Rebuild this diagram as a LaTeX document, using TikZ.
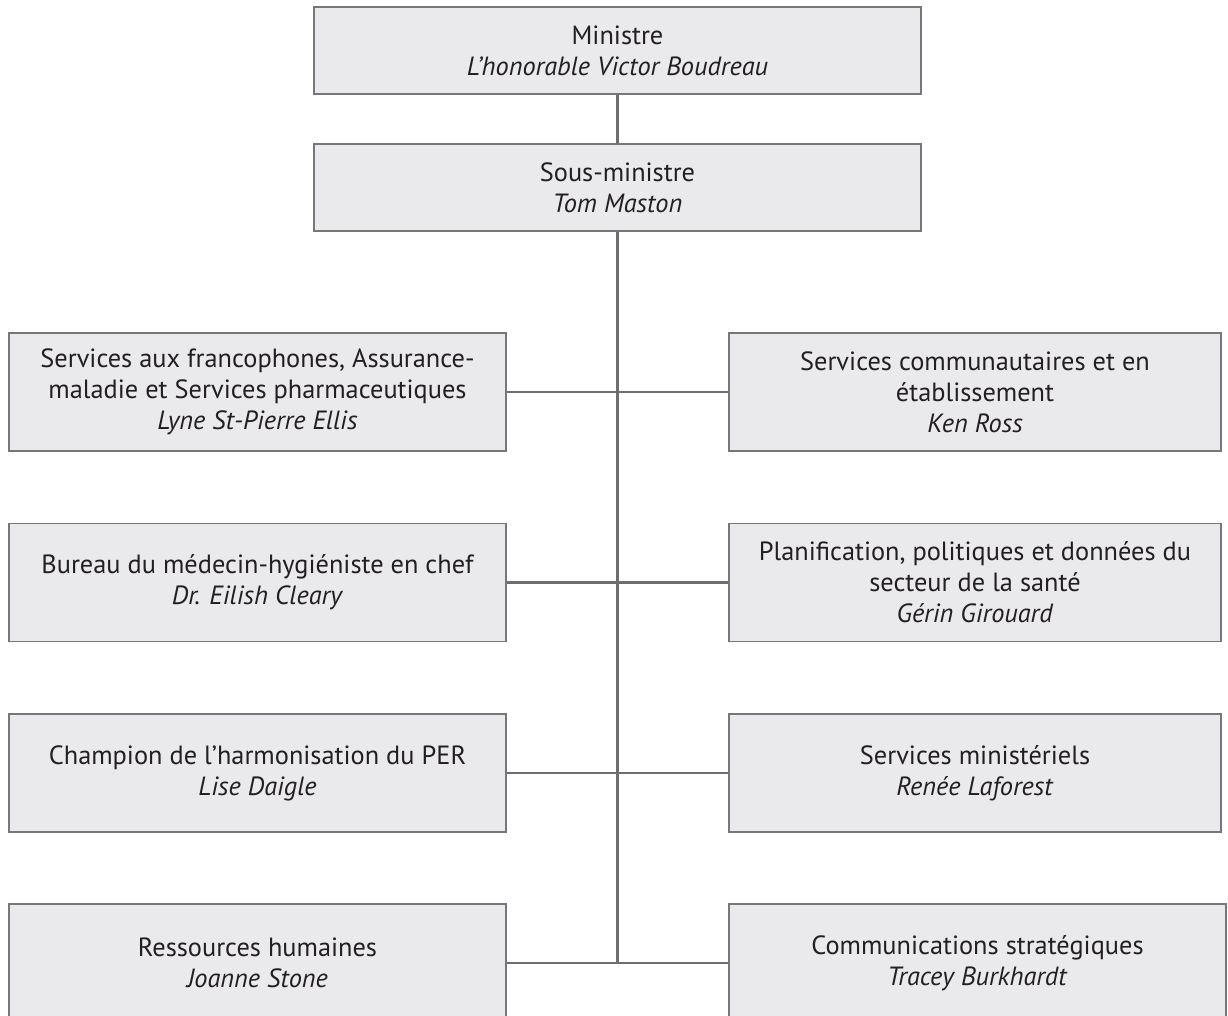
\documentclass[tikz,border=0pt]{standalone}
\usepackage{fontspec}
\setmainfont{PT Sans}
\definecolor{linegray}{HTML}{6D6E71}
\definecolor{edgegray}{HTML}{76777A}
\definecolor{fillside}{HTML}{EAEAEC}
\definecolor{fillmid}{HTML}{F6F6F6}
\definecolor{inkgray}{HTML}{231F20}
\begin{document}
\begin{tikzpicture}[x=0.02cm,y=-0.02cm,
  box/.style={draw=edgegray, line width=1pt, left color=fillside, middle color=fillmid, right color=fillside,
    align=center, inner sep=0pt, text=inkgray, font=\fontsize{15}{17.6}\selectfont},
  topbox/.style={box, minimum width=12.14cm, minimum height=1.74cm},
  unitbox/.style={box, minimum width=9.94cm, minimum height=2.36cm},
  link/.style={draw=linegray, line width=1.3pt}]
\useasboundingbox (0,0) rectangle (1228,1016);

\node[topbox] (min) at (617.5,50.5) {Ministre\\\textit{L’honorable Victor Boudreau}};
\node[topbox] (sm) at (617.5,187.5) {Sous-ministre\\\textit{Tom Maston}};

\node[unitbox] (fr) at (257.5,392) {Services aux francophones, Assurance-\\maladie et Services pharmaceutiques\\\textit{Lyne St-Pierre Ellis}};
\node[unitbox, minimum width=9.84cm] (sc) at (975,392) {Services communautaires et en\\établissement\\\textit{Ken Ross}};

\node[unitbox] (mh) at (257.5,582.5) {Bureau du médecin-hygiéniste en chef\\\textit{Dr. Eilish Cleary}};
\node[unitbox, minimum width=9.84cm] (pl) at (975,582.5) {Planification, politiques et données du\\secteur de la santé\\\textit{Gérin Girouard}};

\node[unitbox] (per) at (257.5,773) {Champion de l’harmonisation du PER\\\textit{Lise Daigle}};
\node[unitbox, minimum width=9.84cm] (smin) at (975,773) {Services ministériels\\\textit{Renée Laforest}};

\node[unitbox] (rh) at (257.5,963) {Ressources humaines\\\textit{Joanne Stone}};
\node[unitbox] (cs) at (977.5,963) {Communications stratégiques\\\textit{Tracey Burkhardt}};

\coordinate (trunk) at (617.5,963);

\draw[link] (min) -- (sm);
\draw[link] (sm) -- (trunk);
\draw[link] (fr) -- (sc);
\draw[link] (mh) -- (pl);
\draw[link] (per) -- (smin);
\draw[link] (rh) -- (cs);
\end{tikzpicture}
\end{document}
